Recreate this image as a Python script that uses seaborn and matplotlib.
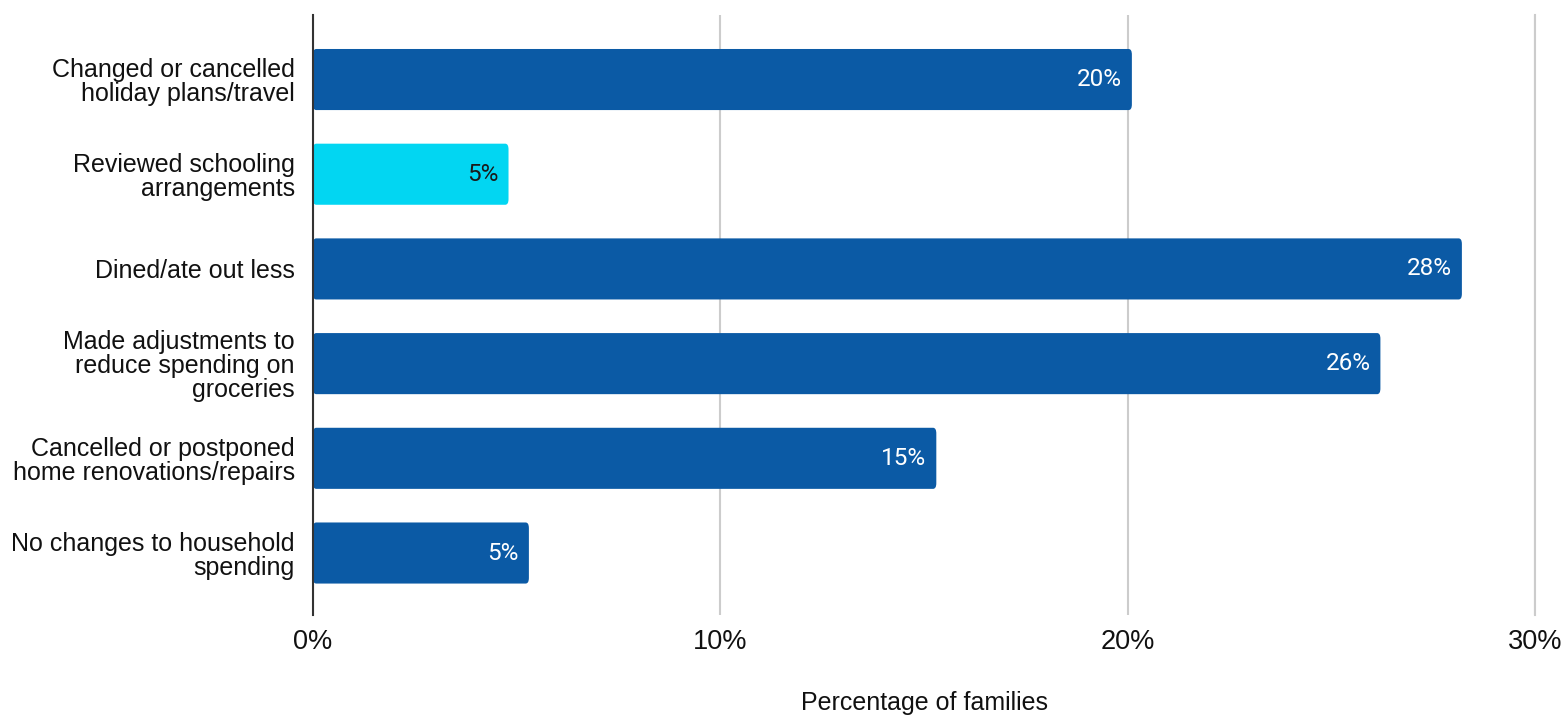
import matplotlib
matplotlib.use("Agg")
import matplotlib.pyplot as plt
import seaborn as sns
import pandas as pd
from matplotlib.patches import FancyBboxPatch
from matplotlib.ticker import FuncFormatter

categories = [
    "Changed or cancelled\nholiday plans/travel",
    "Reviewed schooling\narrangements",
    "Dined/ate out less",
    "Made adjustments to\nreduce spending on\ngroceries",
    "Cancelled or postponed\nhome renovations/repairs",
    "No changes to household\nspending",
]
values = [20.1, 4.8, 28.2, 26.2, 15.3, 5.3]
bar_colors = ["#0b5aa5", "#02d6f2", "#0b5aa5", "#0b5aa5", "#0b5aa5", "#0b5aa5"]
label_colors = ["white", "#1a1a1a", "white", "white", "white", "white"]
x_ticks = [0, 10, 20, 30]

df = pd.DataFrame({"category": categories, "value": values})

sns.set_theme(style="white")
plt.rcParams["font.family"] = ["Liberation Sans", "DejaVu Sans"]

fig = plt.figure(figsize=(15.64, 7.16), dpi=100)
ax = fig.add_axes([0.2001, 0.141, 0.7815, 0.838])

sns.barplot(data=df, y="category", x="value", hue="category",
            palette=bar_colors, legend=False, width=0.645, ax=ax,
            saturation=1, edgecolor="none")

# soften the bar corners
for patch in list(ax.patches):
    x0, y0 = patch.get_x(), patch.get_y()
    w, h = patch.get_width(), patch.get_height()
    rounded = FancyBboxPatch((x0, y0), w, h,
                             boxstyle="round,pad=0,rounding_size=0.08",
                             mutation_aspect=0.75,
                             facecolor=patch.get_facecolor(),
                             edgecolor="none", zorder=patch.get_zorder())
    patch.remove()
    ax.add_patch(rounded)

# value labels inside the bar ends
for i, (v, c) in enumerate(zip(values, label_colors)):
    ax.annotate(f"{v:.0f}%", xy=(v, i), xytext=(-10, 0),
                textcoords="offset pixels", ha="right", va="center",
                color=c, fontsize=17.5, family=["Roboto", "DejaVu Sans"])

ax.set_xlim(0, 30)
ax.set_ylim(5.655, -0.681)
ax.set_xticks(x_ticks)
ax.xaxis.set_major_formatter(FuncFormatter(lambda x, _: f"{x:.0f}%"))
ax.grid(axis="x", color="#cccccc", linewidth=1.5)
ax.set_axisbelow(True)

for side in ["top", "bottom"]:
    ax.spines[side].set_visible(False)
ax.spines["right"].set_color("#cccccc")
ax.spines["right"].set_linewidth(1.5)
ax.spines["left"].set_color("#333333")
ax.spines["left"].set_linewidth(1.5)
ax.spines["left"].set_zorder(5)

ax.tick_params(axis="y", length=0, pad=13, labelsize=18, labelcolor="#111111")
ax.tick_params(axis="x", length=0, pad=10, labelsize=19.5, labelcolor="#111111")
for lbl in ax.get_yticklabels():
    lbl.set_linespacing(1.0)

ax.set_ylabel("")
ax.set_xlabel("Percentage of families", fontsize=18, color="#111111", labelpad=26)

fig.savefig("out.png", dpi=100, facecolor="white")
